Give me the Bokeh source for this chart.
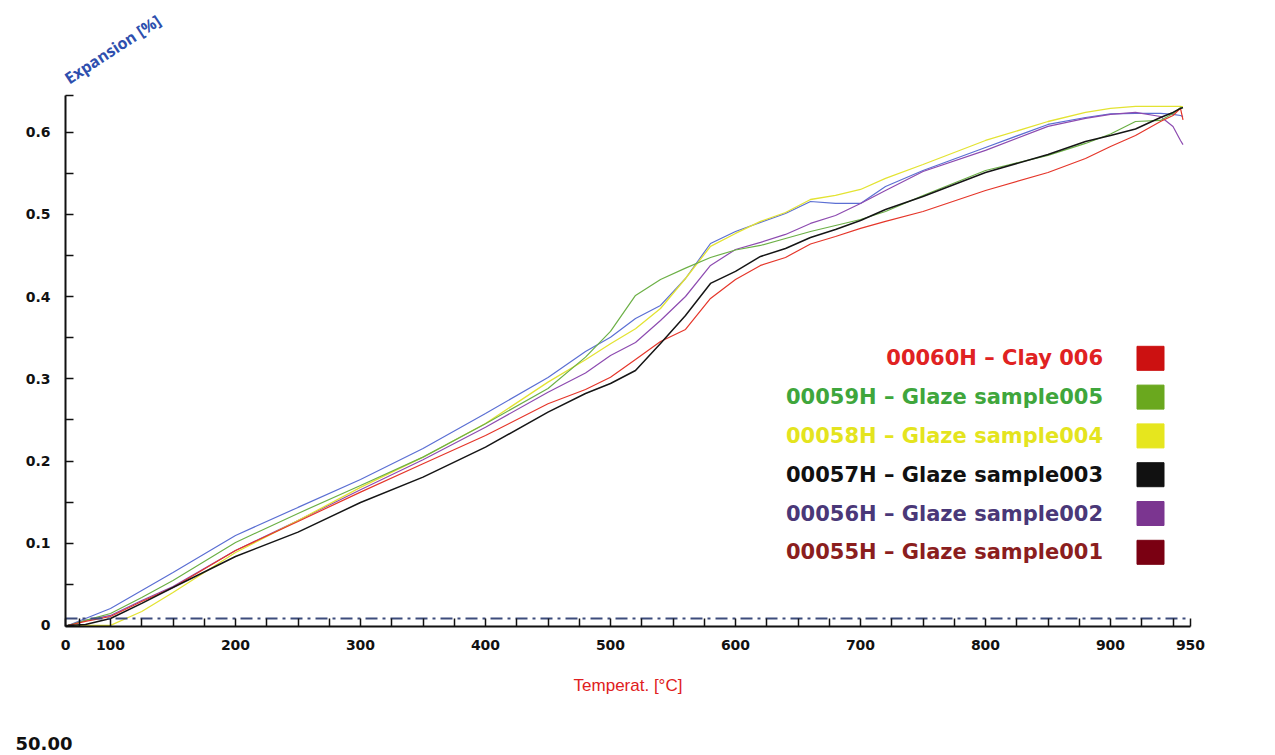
from bokeh.plotting import figure
from bokeh.models import FixedTicker, Label, ColumnDataSource, Range1d
from bokeh.embed import file_html
from bokeh.resources import INLINE
from bokeh.core.properties import value

# ---------------- data ----------------
temperature = [66, 80, 100, 125, 150, 200, 250, 300, 350, 400, 450, 480, 500, 520,
               540, 560, 580, 600, 620, 640, 660, 680, 700, 720, 750, 800, 850, 880,
               900, 920, 940, 950, 956, 958]

clay006 = [0, 0.0049, 0.0109, 0.0292, 0.0462, 0.0912, 0.1265, 0.1622, 0.1967, 0.2311,
           0.2697, 0.2871, 0.3020, 0.3236, 0.3455, 0.3601, 0.3978, 0.4209, 0.4380, 0.4477,
           0.4641, 0.4732, 0.4830, 0.4915, 0.5036, 0.5292, 0.5511, 0.5681, 0.5827, 0.5961,
           0.6131, 0.6204, 0.6290, 0.615]
glaze005 = [0, 0.0061, 0.0146, 0.0341, 0.0547, 0.1010, 0.1363, 0.1703, 0.2048, 0.2454,
            0.2883, 0.3264, 0.3577, 0.4015, 0.4209, 0.4347, 0.4477, 0.4568, 0.4623, 0.4708,
            0.4793, 0.4866, 0.4939, 0.5036, 0.5231, 0.5535, 0.5718, 0.5864, 0.5979, 0.6131,
            0.6144, 0.6229, 0.6302, 0.630]
glaze004 = [0, 0, 0, 0.0170, 0.0401, 0.0888, 0.1277, 0.1679, 0.2047, 0.2457,
            0.2960, 0.3232, 0.3427, 0.3610, 0.3856, 0.4221, 0.4611, 0.4769, 0.4915, 0.5024,
            0.5182, 0.5231, 0.5304, 0.5438, 0.5608, 0.5900, 0.6131, 0.6241, 0.6290, 0.6314,
            0.6314, 0.6314, 0.6314, 0.631]
glaze003 = [0, 0.0012, 0.0085, 0.0268, 0.0462, 0.0839, 0.1135, 0.1496, 0.1804, 0.2169,
            0.2595, 0.2822, 0.2944, 0.3102, 0.3431, 0.3771, 0.4161, 0.4307, 0.4489, 0.4586,
            0.4720, 0.4818, 0.4927, 0.5061, 0.5219, 0.5511, 0.5730, 0.5888, 0.5961, 0.6040,
            0.6180, 0.6241, 0.6290, 0.630]
glaze002 = [0, 0.0061, 0.0122, 0.0304, 0.0474, 0.0912, 0.1277, 0.1651, 0.2016, 0.2412,
            0.2838, 0.3072, 0.3285, 0.3443, 0.3710, 0.4002, 0.4380, 0.4574, 0.4660, 0.4757,
            0.4891, 0.4988, 0.5134, 0.5292, 0.5523, 0.5779, 0.6071, 0.6168, 0.6217, 0.6241,
            0.6192, 0.6071, 0.5900, 0.585]
glaze001 = [0, 0.0085, 0.0207, 0.0426, 0.0645, 0.1095, 0.1436, 0.1776, 0.2153, 0.2579,
            0.3017, 0.3333, 0.3507, 0.3735, 0.3893, 0.4221, 0.4647, 0.4793, 0.4903, 0.5012,
            0.5158, 0.5134, 0.5134, 0.5341, 0.5535, 0.5815, 0.6095, 0.6180, 0.6223, 0.6229,
            0.6229, 0.6217, 0.6204, 0.619]

legend_labels = ["00060H \u2013 Clay 006", "00059H \u2013 Glaze sample005",
                 "00058H \u2013 Glaze sample004", "00057H \u2013 Glaze sample003",
                 "00056H \u2013 Glaze sample002", "00055H \u2013 Glaze sample001"]
legend_text_colors = ["#e02222", "#3fa63c", "#e4e41e", "#111111", "#4a3878", "#8b1e1e"]
legend_box_colors = ["#cc1111", "#6aa81e", "#e6e61e", "#111111", "#7b3590", "#7a0012"]

x_ticks = [64, 100, 200, 300, 400, 500, 600, 700, 800, 900, 964]
x_tick_labels = {64: "0", 964: "950"}
y_ticks = [0, 0.1, 0.2, 0.3, 0.4, 0.5, 0.6]

# ---------------- figure ----------------
# frame covers the whole canvas; axes are drawn at fixed locations inside it
p = figure(width=1275, height=755, output_backend="svg", toolbar_location=None,
           x_range=Range1d(12, 1032), y_range=Range1d(-0.1582, 0.7603),
           min_border_left=0, min_border_right=0, min_border_top=0,
           min_border_bottom=0, background_fill_color="white",
           border_fill_color="white", outline_line_color=None)
p.grid.visible = False

series = [
    (glaze001, "#5b6fd3", 1.2),
    (glaze002, "#8d4bb0", 1.2),
    (glaze004, "#e3e332", 1.3),
    (glaze005, "#6cb046", 1.2),
    (clay006, "#e5362a", 1.2),
    (glaze003, "#151515", 1.5),
]
for ys, col, w in series:
    p.line(temperature, ys, line_color=col, line_width=w)

# dash-dot reference line along the base
p.segment(x0=[64], y0=[0.0085], x1=[964], y1=[0.0085], line_color="#3d4c7c",
          line_width=2, line_dash="12 5 3 5")

# axes
minor_x = [t for t in range(75, 951, 25) if t % 100 != 0]
p.xaxis.ticker = FixedTicker(ticks=x_ticks, minor_ticks=minor_x)
p.xaxis.major_label_overrides = x_tick_labels
p.xaxis.fixed_location = -0.0012
p.xaxis.bounds = (64, 964)
p.yaxis.ticker = FixedTicker(ticks=y_ticks,
                             minor_ticks=[0.05, 0.15, 0.25, 0.35, 0.45, 0.55, 0.6448])
p.yaxis.major_label_overrides = {0: "0"}
p.yaxis.fixed_location = 64
p.yaxis.bounds = (-0.0012, 0.645)

for ax in (p.xaxis[0], p.yaxis[0]):
    ax.axis_line_width = 2
    ax.axis_line_color = "#111111"
    ax.major_tick_in = 8
    ax.major_tick_out = 0
    ax.minor_tick_in = 8
    ax.minor_tick_out = 0
    ax.major_tick_line_width = 1.5
    ax.minor_tick_line_width = 1.5
    ax.major_tick_line_color = "#111111"
    ax.minor_tick_line_color = "#111111"
    ax.major_label_text_font = "DejaVu Sans"
    ax.major_label_text_font_style = "bold"
    ax.major_label_text_font_size = "14px"
    ax.major_label_text_color = "#111111"

p.xaxis.major_label_standoff = 14
p.yaxis.major_label_standoff = 15
p.xaxis.axis_label = "Temperat. [\u00b0C]"
p.xaxis.axis_label_text_font = "Liberation Sans Narrow, Liberation Sans, sans-serif"
p.xaxis.axis_label_text_font_style = "normal"
p.xaxis.axis_label_text_font_size = "17px"
p.xaxis.axis_label_text_color = "#e02020"
p.xaxis.axis_label_standoff = 22

p.add_layout(Label(x=64.5, y=0.664, text="Expansion [%]", angle=0.58,
                   text_font="Open Sans", text_font_style="bold",
                   text_font_size="16px", text_color="#2e4fae",
                   text_baseline="alphabetic"))
p.add_layout(Label(x=24, y=-0.1442, text="50.00", text_font="DejaVu Sans",
                   text_font_style="bold", text_font_size="18px",
                   text_color="#111111", text_baseline="alphabetic"))

# legend (text right-aligned, colour box at its right)
legend_y = [0.325 - i * 0.0472 for i in range(len(legend_labels))]
src = ColumnDataSource(dict(x=[894] * 6, bx=[932] * 6, y=legend_y, label=legend_labels,
                            tc=legend_text_colors, bc=legend_box_colors))
p.text(x="x", y="y", text="label", source=src, text_align="right",
       text_baseline="middle", text_font=value("DejaVu Sans"),
       text_font_style="bold", text_font_size="21px", text_color="tc")
p.rect(x="bx", y="y", width=27, height=24, width_units="screen",
       height_units="screen", source=src, fill_color="bc", line_color="bc")

open("out.html", "w").write(file_html(p, INLINE))
